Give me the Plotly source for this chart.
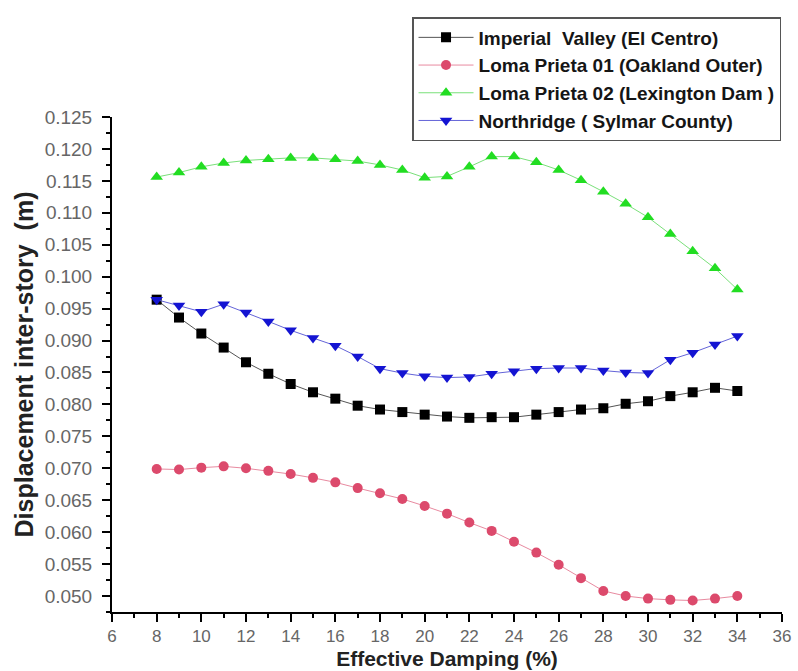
import plotly.graph_objects as go

damping = list(range(8, 35))

imperial_valley = [0.0964, 0.0936, 0.0911, 0.0889, 0.0866, 0.0848, 0.0832, 0.0819, 0.0809,
                   0.0798, 0.0792, 0.0788, 0.0784, 0.0781, 0.0779, 0.0780, 0.0780, 0.0784,
                   0.0788, 0.0792, 0.0794, 0.0801, 0.0805, 0.0813, 0.0819, 0.0826, 0.0821]
loma_prieta_01 = [0.0699, 0.0698, 0.0701, 0.0703, 0.0700, 0.0696, 0.0691, 0.0685, 0.0678,
                  0.0669, 0.0661, 0.0652, 0.0641, 0.0629, 0.0615, 0.0602, 0.0585, 0.0568,
                  0.0549, 0.0528, 0.0508, 0.0500, 0.0496, 0.0494, 0.0493, 0.0496, 0.0500]
loma_prieta_02 = [0.1156, 0.1163, 0.1172, 0.1178, 0.1182, 0.1184, 0.1186, 0.1186, 0.1184,
                  0.1181, 0.1175, 0.1167, 0.1155, 0.1157, 0.1172, 0.1188, 0.1188, 0.1179,
                  0.1167, 0.1151, 0.1133, 0.1114, 0.1093, 0.1067, 0.1040, 0.1013, 0.0980]
northridge = [0.0964, 0.0955, 0.0945, 0.0957, 0.0944, 0.0930, 0.0916, 0.0904, 0.0892,
              0.0875, 0.0856, 0.0849, 0.0844, 0.0842, 0.0843, 0.0848, 0.0852, 0.0856,
              0.0857, 0.0857, 0.0853, 0.0850, 0.0849, 0.0870, 0.0881, 0.0894, 0.0907]

names = ["Imperial  Valley (El Centro)", "Loma Prieta 01 (Oakland Outer)",
         "Loma Prieta 02 (Lexington Dam )", "Northridge ( Sylmar County)"]

series = [imperial_valley, loma_prieta_01, loma_prieta_02, northridge]
colors = ["#000000", "#DC4A6C", "#22DD22", "#1414D2"]
line_colors = ["#555555", "#E88AA0", "#7AE07A", "#6464D8"]
symbols = ["square", "circle", "triangle-up", "triangle-down"]
sizes = [10, 10, 11, 11]

fig = go.Figure()
for name, ys, c, lc, sym, sz in zip(names, series, colors, line_colors, symbols, sizes):
    fig.add_trace(go.Scatter(
        x=damping, y=ys, name=name, mode="lines+markers",
        line=dict(color=lc, width=1),
        marker=dict(symbol=sym, size=sz, color=c, line=dict(width=0)),
    ))

fig.update_layout(
    width=798, height=671,
    margin=dict(l=112, r=16, t=117, b=59),
    paper_bgcolor="white", plot_bgcolor="white",
    showlegend=True,
    legend=dict(
        x=0.4478, y=1.202, xanchor="left", yanchor="top",
        bgcolor="white", bordercolor="#555555", borderwidth=1.5,
        font=dict(family="Liberation Sans, Arial, sans-serif", size=19, color="#151515",
                  weight="bold"),
        itemwidth=55, tracegroupgap=0,
    ),
    xaxis=dict(
        range=[6, 36], dtick=2, tick0=6, automargin=False,
        showline=True, linecolor="black", linewidth=2,
        ticks="outside", ticklen=8, tickwidth=2, tickcolor="black",
        showgrid=False, zeroline=False,
        tickfont=dict(family="Liberation Sans, Arial, sans-serif", size=17, color="#666666"),
        minor=dict(dtick=1, ticks="outside", ticklen=4, tickwidth=2, tickcolor="black"),
        title=dict(text="<b>Effective Damping (%)</b>", standoff=6,
                   font=dict(family="Liberation Sans, Arial, sans-serif",
                             size=21, color="#222222")),
    ),
    yaxis=dict(
        range=[0.0475, 0.125], dtick=0.005, tick0=0.05, tickformat=".3f", automargin=False,
        showline=True, linecolor="black", linewidth=2,
        ticks="outside", ticklen=8, tickwidth=2, tickcolor="black",
        ticklabelstandoff=6,
        showgrid=False, zeroline=False,
        tickfont=dict(family="Liberation Sans, Arial, sans-serif", size=19, color="#666666"),
        minor=dict(dtick=0.0025, ticks="outside", ticklen=4, tickwidth=2, tickcolor="black"),
        title=dict(text="<b>Displacement inter-story  (m)</b>", standoff=4,
                   font=dict(family="Liberation Sans, Arial, sans-serif", size=25, color="#222222")),
    ),
)

fig.write_html("out.html")
